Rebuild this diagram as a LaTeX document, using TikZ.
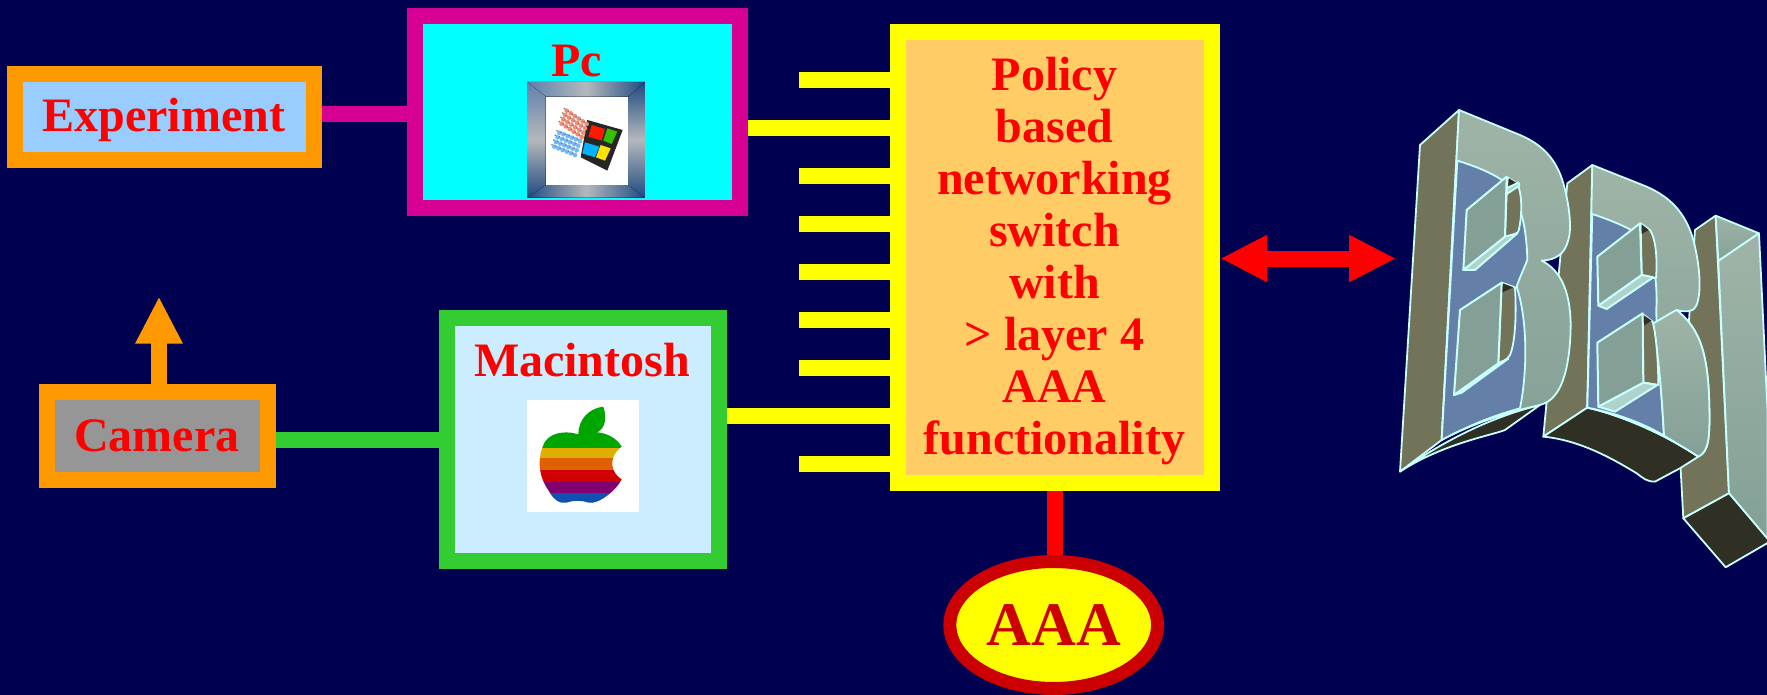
\documentclass[tikz,border=0pt]{standalone}
\usepackage{fontspec}
\setmainfont{Liberation Serif}
\usetikzlibrary{arrows.meta,shapes.geometric}
\definecolor{bgnavy}{HTML}{000050}
\definecolor{boxorange}{HTML}{FF9900}
\definecolor{boxmag}{HTML}{D60093}
\definecolor{boxgreen}{HTML}{33CC33}
\definecolor{boxyel}{HTML}{FFFF00}
\definecolor{purecyan}{HTML}{00FFFF}
\definecolor{purered}{HTML}{FF0000}
\definecolor{swfill}{HTML}{FFCC66}
\definecolor{expfill}{HTML}{99CCFF}
\definecolor{macfill}{HTML}{CCECFF}
\definecolor{camfill}{HTML}{969696}
\definecolor{darkred}{HTML}{CC0000}
\definecolor{bside}{HTML}{737359}
\definecolor{bblue}{HTML}{647FA8}
\definecolor{bdark}{HTML}{2F2F24}
\definecolor{bedge}{HTML}{C8FFFF}
\definecolor{bfrontA}{HTML}{9FB4A7}
\definecolor{bfrontB}{HTML}{84A096}
\definecolor{frameD}{HTML}{1F4A80}
\definecolor{frameM}{HTML}{5F80AC}
\definecolor{frameL}{HTML}{B4B8BC}
\definecolor{flagR}{HTML}{F58A70}
\definecolor{flagB}{HTML}{6FB8FF}
\definecolor{apY}{HTML}{E0AE00}
\definecolor{apO}{HTML}{E06000}
\definecolor{apR}{HTML}{D00000}
\definecolor{apP}{HTML}{800070}
\definecolor{apB}{HTML}{1050B0}
\tikzset{
  framebox/.style={draw,line width=16pt,rectangle,inner sep=0pt},
  wire/.style={line width=16pt},
  stub/.style={line width=16pt,boxyel},
  lab/.style={font=\fontsize{48}{52}\selectfont\bfseries,text=purered,inner sep=0pt,align=center},
  tipbig/.style={line width=16pt},
  bs/.style={fill=bside,draw=bedge,line width=1.8pt,line join=round},
  bf/.style={top color=bfrontA,bottom color=bfrontB,draw=bedge,line width=1.8pt,line join=round},
  bb/.style={fill=bblue,draw=bedge,line width=1.8pt,line join=round},
  bd/.style={fill=bdark,draw=bedge,line width=1.8pt,line join=round},
  bq/.style={fill=bfrontB,draw=bedge,line width=2pt,line join=round},
  bl/.style={fill=bfrontA!60!bedge,draw=bedge,line width=2pt,line join=round},
}
\begin{document}
\begin{tikzpicture}[x=1pt,y=-1pt]
\useasboundingbox (0,0) rectangle (1767,695);
\fill[bgnavy] (0,0) rectangle (1767,695);
\clip (0,0) rectangle (1767,695);

% boxes
\node[framebox,draw=boxorange,fill=expfill,minimum width=298.7pt,minimum height=85.2pt] (exp) at (164.3,117.1) {};
\node[framebox,draw=boxmag,fill=purecyan,minimum width=325pt,minimum height=192pt] (pc) at (577.5,112) {};
\node[framebox,draw=boxyel,fill=swfill,minimum width=314.6pt,minimum height=450.7pt] (sw) at (1055,257.35) {};
\node[framebox,draw=boxgreen,fill=macfill,minimum width=272pt,minimum height=243pt] (mac) at (582.5,439) {};
\node[framebox,draw=boxorange,fill=camfill,minimum width=221.3pt,minimum height=88pt] (cam) at (157.6,436) {};
\node[draw=darkred,line width=13pt,fill=boxyel,ellipse,inner sep=0pt,minimum width=207.7pt,minimum height=127pt] (aaa) at (1053.7,625) {};

% labels
\node[lab,anchor=base] (explab) at (163.7,131.5) {Experiment};
\node[lab,anchor=base] (camlab) at (156.8,451) {Camera};
\node[lab,anchor=base] (pclab) at (576.5,77) {Pc};
\node[lab,anchor=base] (maclab) at (582,376) {Macintosh};
\node[lab] (swlab) at (1054.5,261.5) {Policy\\based\\networking\\switch\\with\\> layer 4\\AAA\\functionality};
\node[inner sep=0pt,anchor=base,font=\fontsize{62}{62}\selectfont\bfseries,text=darkred] (aaalab) at (1053.7,645) {AAA};

% connectors
\draw[wire,boxmag] (exp.east |- 0,114.5) -- (pc.west |- 0,114.5);
\draw[wire,boxgreen] (cam.east |- 0,440) -- (mac.west |- 0,440);
\draw[wire,purered] (sw.south) -- (sw.south |- aaa.north);
\foreach \i/\yy in {1/79.8,3/176,4/224,5/272,6/320,7/368,9/464}{
  \coordinate (st\i) at (799,\yy);
  \draw[stub] (st\i) -- (sw.west |- st\i);
}
\draw[stub] (pc.east |- 0,128) -- (sw.west |- 0,128);
\draw[stub] (mac.east |- 0,416) -- (sw.west |- 0,416);
\coordinate (camtip) at (159,296.5);
\draw[tipbig,boxorange,-{Triangle[length=47pt,width=44pt]}] (cam.north -| camtip) -- (camtip);
\coordinate (bbi) at (1396,258.5);
\draw[tipbig,purered,{Triangle[length=47pt,width=44pt]}-{Triangle[length=47pt,width=44pt]}] (sw.east |- bbi) -- (bbi);

% windows icon
\begin{scope}[shift={(510,70)},x=0.3333pt,y=-0.3333pt]
\fill[frameD] (52,36) rectangle (405,383);
\fill[left color=frameM,right color=frameD,middle color=frameL] (52,36) -- (405,36) -- (355,80) -- (107,80) -- cycle;
\fill[left color=frameD,right color=frameD,middle color=frameL] (52,383) -- (405,383) -- (355,345) -- (107,345) -- cycle;
\fill[top color=frameM,bottom color=frameD,middle color=frameL] (52,36) -- (107,80) -- (107,345) -- (52,383) -- cycle;
\fill[top color=frameD,bottom color=frameD,middle color=frameL] (405,36) -- (355,80) -- (355,345) -- (405,383) -- cycle;
\fill[white] (107,80) rectangle (355,345);
\fill[black!85] (232,150) -- (338,180) -- (292,302) -- (212,262) -- cycle;
\fill[red!80!orange] (245,165) -- (285,177) -- (275,212) -- (235,200) -- cycle;
\fill[green!70!black!80!yellow] (292,175) -- (322,185) -- (305,222) -- (280,212) -- cycle;
\fill[blue!30!purecyan] (225,217) -- (268,230) -- (255,262) -- (217,250) -- cycle;
\fill[yellow!85!orange] (272,225) -- (302,235) -- (285,272) -- (258,262) -- cycle;
\foreach \u in {0,1,2,3,4,5}{\foreach \v in {0,1,2,3}{
  \fill[flagR] ({170+\u*60/5-\v*5},{122+\u*40/5+\v*13}) circle (7);
  \fill[flagB] ({148+\u*62/5-\v*5},{188+\u*25/5+\v*14}) circle (7);
  \fill[black!55] ({163+\u*60/5-\v*5},{116+\u*40/5+\v*13}) circle (2.6);
  \fill[black!55] ({141+\u*62/5-\v*5},{182+\u*25/5+\v*14}) circle (2.6);
}}
\end{scope}

% apple icon
\begin{scope}[shift={(510,390)},x=0.3333pt,y=-0.3333pt]
\fill[white] (51,30) rectangle (387,365);
\fill[green!65!black] (205,133) .. controls (205,90) and (235,55) .. (280,50) .. controls (292,85) and (285,115) .. (262,127) -- cycle;
\begin{scope}
\clip (205,133) .. controls (180,125) and (130,120) .. (105,155) .. controls (80,200) and (85,260) .. (115,300) .. controls (130,330) and (150,342) .. (170,338) .. controls (185,332) and (215,330) .. (235,338) .. controls (265,345) and (320,300) .. (335,268) .. controls (305,250) and (290,205) .. (335,170) .. controls (315,135) and (265,115) .. (205,133) -- cycle;
\fill[green!65!black] (60,100) rectangle (360,175);
\fill[apY] (60,175) rectangle (360,205);
\fill[apO] (60,205) rectangle (360,240);
\fill[apR] (60,240) rectangle (360,275);
\fill[apP] (60,275) rectangle (360,308);
\fill[apB] (60,308) rectangle (360,350);
\end{scope}
\end{scope}

% BBI lettering
\begin{scope}[shift={(1380,90)},x=0.3333pt,y=-0.3333pt]
% I
\draw[bs] (945,420) -- (1007,377) -- (1047,1210) -- (910,1285) -- (900,1100) -- cycle;
\draw[bf] (1007,377) -- (1137,430) -- (1015,513) -- cycle;
\draw[bf] (1015,513) -- (1137,430) -- (1163,970) -- (1163,1348) -- (1047,1210) -- cycle;
\draw[bd] (1047,1210) -- (1170,1355) -- (1037,1432) -- (910,1285) -- cycle;
% second B
\draw[bs] (637,225) -- (562,280) -- (490,1040) -- (622,953) -- cycle;
\draw[bd] (622,953) .. controls (720,975) and (850,1030) .. (955,1100) -- (900,1135) -- (825,1175) .. controls (800,1175) and (790,1165) .. (770,1150) .. controls (680,1095) and (590,1050) .. (490,1040) -- cycle;
\draw[bf] (637,225) -- (800,290) .. controls (880,325) and (925,380) .. (945,470) .. controls (965,560) and (960,620) .. (950,645) .. controls (945,665) and (915,668) .. (890,660) .. controls (950,710) and (985,770) .. (988,950) .. controls (990,1050) and (985,1085) .. (955,1100) .. controls (850,1030) and (720,975) .. (622,953) -- cycle;
\draw[bb] (637,372) .. controls (690,390) and (740,410) .. (780,435) .. controls (820,480) and (830,560) .. (830,640) .. controls (825,680) and (840,840) .. (852,1037) .. controls (790,1000) and (710,970) .. (622,953) -- cycle;
\draw[bf] (890,660) .. controls (860,675) and (840,690) .. (820,700) .. controls (835,800) and (845,900) .. (852,1037) .. controls (890,1060) and (925,1080) .. (955,1100) .. controls (985,1085) and (990,1050) .. (988,950) .. controls (985,770) and (950,710) .. (890,660) -- cycle;
% holes of second B
\draw[bs] (782,400) -- (810,420) .. controls (830,450) and (832,520) .. (828,565) -- (785,555) -- cycle;
\fill[bdark] (785,403) -- (806,420) -- (785,432) -- cycle;
\draw[bl] (655,647) -- (785,555) -- (820,562) -- (680,657) -- cycle;
\draw[bq] (652,500) -- (780,400) -- (785,555) -- (655,647) -- cycle;
\draw[bs] (788,672) -- (818,695) .. controls (830,740) and (835,830) .. (835,885) -- (790,878) -- cycle;
\fill[bdark] (790,675) -- (815,692) -- (790,708) -- cycle;
\draw[bl] (655,950) -- (790,878) -- (832,885) -- (705,965) -- cycle;
\draw[bq] (652,758) -- (788,670) -- (790,878) -- (655,950) -- cycle;
% first B
\draw[bs] (237,60) -- (120,165) -- (60,1145) -- (185,1050) -- cycle;
\draw[bd] (60,1145) .. controls (180,1060) and (320,985) .. (480,945) -- (375,1020) .. controls (340,1035) and (190,1060) .. (60,1145) -- cycle;
\draw[bf] (237,60) -- (420,135) .. controls (490,165) and (530,210) .. (550,280) .. controls (570,350) and (575,420) .. (565,450) .. controls (555,490) and (530,510) .. (485,512) .. controls (540,540) and (570,600) .. (572,700) .. controls (572,800) and (555,880) .. (525,915) .. controls (510,935) and (495,940) .. (480,945) .. controls (370,970) and (270,1005) .. (185,1050) -- cycle;
\draw[bb] (232,212) .. controls (290,230) and (340,250) .. (380,280) .. controls (425,340) and (440,420) .. (442,510) .. controls (430,540) and (420,560) .. (410,590) .. controls (440,680) and (445,830) .. (420,955) .. controls (330,980) and (260,1010) .. (185,1050) -- cycle;
% holes of first B
\draw[bs] (382,262) -- (410,280) .. controls (430,310) and (425,390) .. (415,425) .. controls (405,435) and (390,440) .. (375,440) -- cycle;
\fill[bdark] (387,265) -- (408,278) -- (385,292) -- cycle;
\draw[bl] (380,295) -- (415,278) -- (418,287) -- (380,312) -- cycle;
\draw[bl] (250,540) -- (375,440) -- (412,430) -- (285,540) -- cycle;
\draw[bq] (260,360) -- (380,260) -- (375,440) -- (250,540) -- cycle;
\draw[bs] (365,578) -- (405,592) .. controls (410,680) and (405,760) .. (390,795) .. controls (380,810) and (370,815) .. (355,820) -- cycle;
\fill[bdark] (368,580) -- (400,592) -- (366,608) -- cycle;
\draw[bl] (222,915) -- (355,820) -- (385,806) -- (245,908) -- cycle;
\draw[bq] (240,660) -- (365,578) -- (355,820) -- (222,915) -- cycle;
\end{scope}
\end{tikzpicture}
\end{document}
